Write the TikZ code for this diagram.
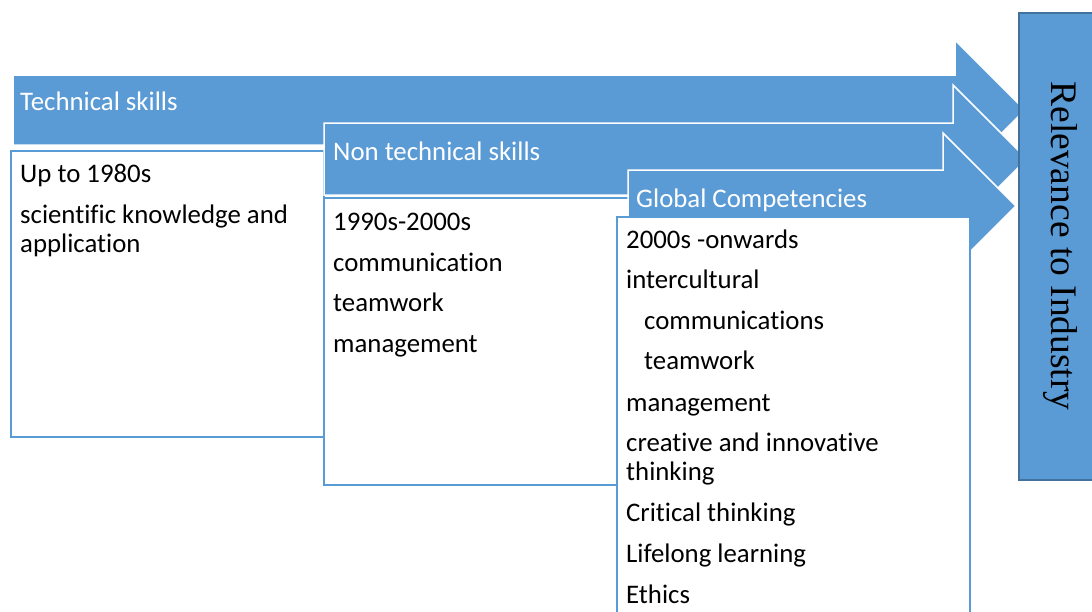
\documentclass[tikz,border=0pt]{standalone}
\usepackage{fontspec}
\setmainfont{Carlito}[Ligatures=NoCommon]
\newfontfamily\relfont{Liberation Serif}
\definecolor{ablue}{HTML}{5B9BD5}
\definecolor{dblue}{HTML}{41719C}
\begin{document}
\begin{tikzpicture}[x=1pt,y=-1pt,
  arrowshape/.style={fill=ablue,draw=white,line width=1.5pt,line join=miter},
  textbox/.style={fill=white,draw=ablue,line width=2pt},
  head/.style={anchor=base west,inner sep=0pt,text=white,font=\fontsize{26.8}{29}\selectfont},
  item/.style={anchor=base west,inner sep=0pt,text=black,font=\fontsize{26.8}{29}\selectfont}]
\clip (0,0) rectangle (1092,611);
\fill[white] (0,0) rectangle (1092,611);
% arrow 1
\draw[arrowshape] (13,75) -- (955,75) -- (955,40) -- (1025,110) -- (955,180) -- (955,145) -- (13,145) -- cycle;
\node[head] (h1) at (20,110) {Technical skills};
\draw[textbox] (11,151) rectangle (324,437);
\node[item] (a1) at (20,182) {Up to 1980s};
\node[item] (a2) at (20,223) {scientific knowledge and};
\node[item] (a3) at (20,252) {application};
% arrow 2
\draw[arrowshape] (324,123) -- (953,123) -- (953,85) -- (1027,159) -- (953,233) -- (953,195) -- (324,195) -- cycle;
\node[head] (h2) at (333,160) {Non technical skills};
\draw[textbox] (324,198) rectangle (640,485);
\node[item] (b1) at (333,230) {1990s-2000s};
\node[item] (b2) at (333,271) {communication};
\node[item] (b3) at (333,311) {teamwork};
\node[item] (b4) at (333,352) {management};
% arrow 3
\draw[arrowshape] (628,170) -- (943,170) -- (943,133) -- (1016,206) -- (943,279) -- (943,242) -- (628,242) -- cycle;
\node[head] (h3) at (636,207) {Global Competencies};
\draw[textbox] (617,217) rectangle (970,640);
\node[item] (c1) at (626,248) {2000s -onwards};
\node[item] (c2) at (626,288) {intercultural};
\node[item] (c3) at (644,329) {communications};
\node[item] (c4) at (644,369) {teamwork};
\node[item] (c5) at (626,411) {management};
\node[item] (c6) at (626,451) {creative and innovative};
\node[item] (c7) at (626,480) {thinking};
\node[item] (c8) at (626,521) {Critical thinking};
\node[item] (c9) at (626,562) {Lifelong learning};
\node[item] (c10) at (626,603) {Ethics};
% right box
\draw[fill=ablue,draw=dblue,line width=2pt] (1019,13) rectangle (1110,480);
\node[rotate=-90,inner sep=0pt,font=\relfont\fontsize{37.5}{40}\selectfont] (rel) at (1060,246) {Relevance to Industry};
\end{tikzpicture}
\end{document}
